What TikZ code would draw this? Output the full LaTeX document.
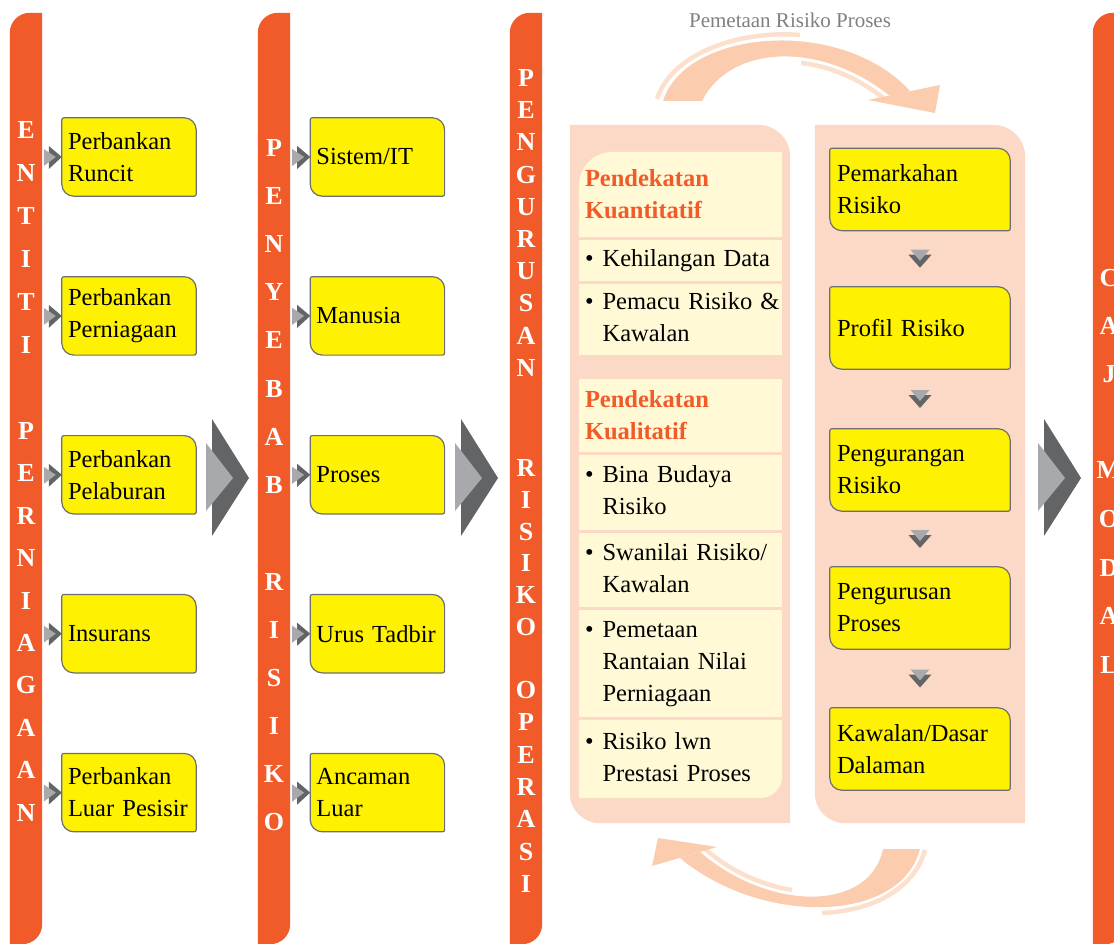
\documentclass[tikz,border=0pt]{standalone}
\usepackage{fontspec}
\setmainfont{Liberation Serif}
\usetikzlibrary{positioning,calc}

\definecolor{barorange}{HTML}{F15A29}
\definecolor{boxyellow}{HTML}{FFF200}
\definecolor{boxgrey}{HTML}{6D6E71}
\definecolor{peach}{HTML}{FCD9C6}
\definecolor{cream}{HTML}{FFF9D6}
\definecolor{arcpeach}{HTML}{FBCCAE}
\definecolor{arcpale}{HTML}{FDDFCD}
\definecolor{darkgrey}{HTML}{636466}
\definecolor{lightgrey}{HTML}{A7A9AC}
\definecolor{labelgrey}{HTML}{808080}

\pgfdeclarelayer{back}
\pgfdeclarelayer{mid}
\pgfsetlayers{back,mid,main}

% outline of a node with one radius per corner: tl, tr, br, bl
\newcommand\cornerbox[6]{%
  \path[#1] ([yshift=-#3]#2.north west) arc[start angle=180, end angle=90, radius=#3]
    -- ([xshift=-#4]#2.north east) arc[start angle=90, end angle=0, radius=#4]
    -- ([yshift=#5]#2.south east) arc[start angle=0, end angle=-90, radius=#5]
    -- ([xshift=#6]#2.south west) arc[start angle=270, end angle=180, radius=#6] -- cycle;}

\newcommand\bitem[1]{\begin{tabular}{@{}l@{\hspace{9pt}}l@{}}\textbullet & #1\end{tabular}}

\begin{document}
\begin{tikzpicture}[x=1pt, y=-1pt,
  every node/.style={font=\fontsize{24.5}{32}\selectfont},
  ybox/.style={text width=122pt, inner xsep=6pt, inner ysep=0pt, minimum height=78pt, align=left},
  rbox/.style={ybox, text width=166pt, inner xsep=7pt, minimum height=82pt},
  cell/.style={text width=191pt, inner xsep=6pt, inner ysep=0pt, align=left},
  head/.style={cell, text=barorange, font=\fontsize{24.5}{32}\selectfont\bfseries},
  bar/.style={minimum width=32pt, minimum height=931pt, inner sep=0pt},
  panel/.style={inner sep=0pt, minimum height=698pt},
  barletter/.style={text=white, font=\fontsize{26}{30}\selectfont\bfseries, text height=17pt, text depth=0pt, inner sep=0pt},
  sidearrow/.pic={
    \fill[darkgrey] (-13,-11) -- (0,0) -- (-13,12) -- cycle;
    \fill[lightgrey] (-18,-8) -- (-6,0) -- (-18,9) -- cycle;},
  bigarrow/.pic={
    \fill[darkgrey] (6,-59) -- (43,0) -- (6,58) -- cycle;
    \fill[lightgrey] (0,-35) -- (27,0) -- (0,33) -- cycle;},
  downarrow/.pic={
    \fill[darkgrey] (-11.5,-4) -- (11.5,-4) -- (0,9) -- cycle;
    \fill[lightgrey] (-9.5,-9) -- (9.5,-9) -- (0,2) -- cycle;}]
\useasboundingbox (0,0) rectangle (1114,944);

% bars and panels
\node[bar] (bar1) at (26,478.5) {};
\node[bar] (bar2) at (274,478.5) {};
\node[bar] (bar3) at (526,478.5) {};
\node[bar] (bar4) at (1109,478.5) {};
\node[panel, minimum width=220pt] (panelL) at (680,474) {};
\node[panel, minimum width=210pt] (panelR) at (920,474) {};

\foreach \x/\y/\d/\nm/\w in {26/130/43/entiti/{E,N,T,I,T,I}, 26/431/42.4/perniagaan/{P,E,R,N,I,A,G,A,A,N},
    274/148/48.1/penyebab/{P,E,N,Y,E,B,A,B}, 274/582/48/risiko/{R,I,S,I,K,O},
    526/78/32.2/pengurusan/{P,E,N,G,U,R,U,S,A,N}, 526/468/31.8/risk/{R,I,S,I,K,O}, 526/690/32.3/operasi/{O,P,E,R,A,S,I},
    1109/278/48/caj/{C,A,J}, 1109/470/48.8/modal/{M,O,D,A,L}}
  \foreach \c [count=\i from 0] in \w
    \node[barletter] (\nm-\i) at (\x,{\y+\i*\d}) {\c};

% entiti perniagaan
\node[ybox] (runcit) at (129,157) {Perbankan\\Runcit};
\node[ybox, below=80.5pt of runcit] (niaga) {Perbankan\\Perniagaan};
\node[ybox, below=80.5pt of niaga] (labur) {Perbankan\\Pelaburan};
\node[ybox, below=80.5pt of labur] (insurans) {Insurans};
\node[ybox, below=80.5pt of insurans] (pesisir) {Perbankan\\Luar Pesisir};

% penyebab risiko
\node[ybox, right=114pt of runcit] (sistem) {Sistem/IT};
\node[ybox, right=114pt of niaga] (manusia) {Manusia};
\node[ybox, right=114pt of labur] (proses) {Proses};
\node[ybox, right=114pt of insurans] (tadbir) {Urus Tadbir};
\node[ybox, right=114pt of pesisir] (ancaman) {Ancaman\\Luar};

% pendekatan
\node[head, minimum height=85pt] (kuanti) at (680.5,194.5) {Pendekatan\\Kuantitatif};
\node[cell, minimum height=41pt] (data) at (680.5,260.5) {\bitem{Kehilangan Data}};
\node[cell, minimum height=71pt] (pemacu) at (680.5,319.5) {\bitem{Pemacu Risiko \&\\ & Kawalan}};
\node[head, minimum height=73pt] (kuali) at (680.5,415.5) {Pendekatan\\Kualitatif};
\node[cell, minimum height=75pt] (budaya) at (680.5,492.5) {\bitem{Bina Budaya\\ & Risiko}};
\node[cell, minimum height=74pt] (swanilai) at (680.5,570) {\bitem{Swanilai Risiko/\\ & Kawalan}};
\node[cell, minimum height=107pt] (rantaian) at (680.5,663.5) {\bitem{Pemetaan\\ & Rantaian Nilai\\ & Perniagaan}};
\node[cell, minimum height=78pt] (prestasi) at (680.5,759) {\bitem{Risiko lwn\\ & Prestasi Proses}};

% langkah
\node[rbox] (markah) at (920,189.5) {Pemarkahan\\Risiko};
\node[rbox] (profil) at (920,328) {Profil Risiko};
\node[rbox] (kurang) at (920,470) {Pengurangan\\Risiko};
\node[rbox] (urusan) at (920,608) {Pengurusan\\Proses};
\node[rbox] (kawal) at (920,749) {Kawalan/Dasar\\Dalaman};

\node[text=labelgrey, font=\fontsize{21}{24}\selectfont] (peta) at (790,20) {Pemetaan Risiko Proses};

\begin{pgfonlayer}{back}
  \foreach \b in {bar1,bar2,bar3,bar4}
    {\cornerbox{fill=barorange}{\b}{20pt}{0.1pt}{20pt}{0.1pt}}
  \foreach \p in {panelL,panelR}
    {\cornerbox{fill=peach}{\p}{0.1pt}{32pt}{0.1pt}{30pt}}
\end{pgfonlayer}

\begin{pgfonlayer}{mid}
  \foreach \n in {runcit,niaga,labur,insurans,pesisir,sistem,manusia,proses,tadbir,ancaman,markah,profil,kurang,urusan,kawal}
    {\cornerbox{draw=boxgrey, line width=1.2pt, fill=boxyellow}{\n}{2pt}{12pt}{2pt}{12pt}}
  \cornerbox{fill=cream}{kuanti}{34pt}{0.1pt}{0.1pt}{0.1pt}
  \foreach \n in {data,pemacu,kuali,budaya,swanilai,rantaian}
    {\fill[cream] (\n.north west) rectangle (\n.south east);}
  \cornerbox{fill=cream}{prestasi}{0.1pt}{0.1pt}{22pt}{0.1pt}
\end{pgfonlayer}

% arrows
\foreach \n in {runcit,niaga,labur,insurans,pesisir,sistem,manusia,proses,tadbir,ancaman}
  \pic at (\n.west) {sidearrow};
\foreach \a/\b in {markah/profil,profil/kurang,kurang/urusan,urusan/kawal}
  \pic at ($(\a.south)!0.5!(\b.north)$) {downarrow};
\pic at (206,478) {bigarrow};
\pic at (455,478) {bigarrow};
\pic at (1038,478) {bigarrow};

% cycle arcs
\draw[arcpale, line width=4.5pt] (657,99) .. controls (671,55) and (736,30) .. (800,35);
\draw[arcpale, line width=4.5pt] (886,100) .. controls (858,78) and (830,66) .. (801,63);
\fill[arcpeach] (663,101) .. controls (685,30) and (840,15) .. (910,91) -- (890,96)
  .. controls (820,40) and (730,45) .. (702,101) -- cycle;
\fill[arcpeach] (868,100) -- (940,85) -- (935,113) -- cycle;
\draw[arcpale, line width=4.5pt] (925,850) .. controls (914,890) and (871,911) .. (822,913);
\draw[arcpale, line width=4.5pt] (704,848) .. controls (731,872) and (762,885) .. (792,890);
\fill[arcpeach] (920,849) .. controls (900,925) and (760,925) .. (680,858) -- (700,852)
  .. controls (770,912) and (870,912) .. (883,849) -- cycle;
\fill[arcpeach] (658,838) -- (652,866) -- (717,847) -- cycle;
\end{tikzpicture}
\end{document}
